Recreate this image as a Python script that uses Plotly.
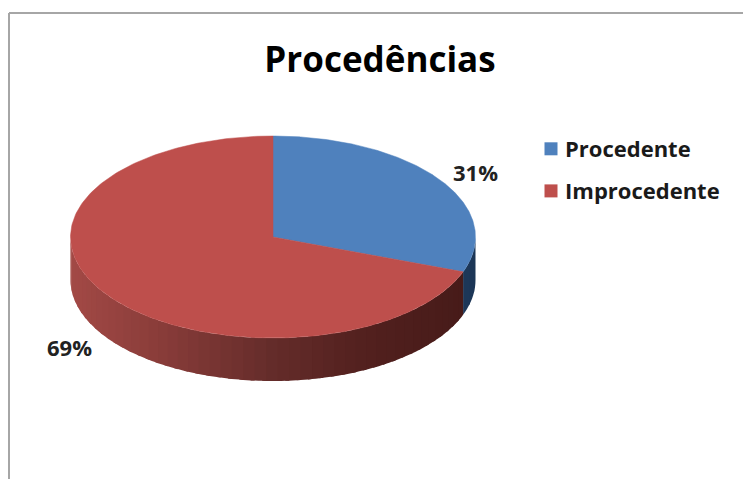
import numpy as np
import plotly.graph_objects as go

categories = ["Procedente", "Improcedente"]
values = [30.6, 69.4]
value_labels = ["31%", "69%"]
top_colors = ["#4F81BD", "#BE4F4C"]
title_text = "Procedências"

CX, CY, RX, RY, DEPTH = 273, 237, 202.5, 101, 43
FONT = "Open Sans"


def ell(theta, dy=0.0):
    return CX + RX * np.sin(theta), CY + dy - RY * np.cos(theta)


def mix(stops, x):
    xs = [s[0] for s in stops]
    return "rgb(%d,%d,%d)" % tuple(np.interp(x, xs, [s[1][i] for s in stops]) for i in range(3))


red_side = [(70, (163, 74, 70)), (150, (140, 62, 59)), (273, (100, 44, 42)), (370, (82, 32, 30)), (475, (70, 27, 25))]
blue_side = [(440, (34, 62, 98)), (475, (28, 54, 86))]

fracs = np.array(values, float) / sum(values)
edges = np.concatenate([[0], np.cumsum(fracs)]) * 2 * np.pi

fig = go.Figure()

# side wall: only the front half (90deg..270deg) is visible
for i, side in enumerate([blue_side, red_side]):
    a0 = max(edges[i], np.pi / 2)
    a1 = min(edges[i + 1], 3 * np.pi / 2)
    cuts = np.linspace(a0, a1, 4 if i == 0 else 50)
    for t0, t1 in zip(cuts[:-1], cuts[1:]):
        th = np.linspace(t0, min(t1 + 0.02, a1), 5)
        x0, y0 = ell(th)
        x1, y1 = ell(th[::-1], DEPTH)
        c = mix(side, float(np.mean(x0)))
        fig.add_trace(go.Scatter(x=np.r_[x0, x1], y=np.r_[y0, y1], mode="none", fill="toself",
                                 fillcolor=c, hoverinfo="skip", showlegend=False))

# top face
for i, name in enumerate(categories):
    th = np.linspace(edges[i], edges[i + 1], 240)
    ex, ey = ell(th)
    fig.add_trace(go.Scatter(x=np.r_[CX, ex, CX], y=np.r_[CY, ey, CY], mode="lines", fill="toself",
                             fillcolor=top_colors[i], line=dict(color=top_colors[i], width=0.5),
                             hoverinfo="skip", showlegend=False))

# legend entries
for i, name in enumerate(categories):
    fig.add_trace(go.Scatter(x=[None], y=[None], mode="markers", name=name, legendgroup=name,
                             marker=dict(symbol="square", size=13, color=top_colors[i])))

label_pos = [(475.5, 172), (69.5, 347)]
annotations = [dict(x=p[0], y=p[1], text=t, showarrow=False, xref="x", yref="y",
                    font=dict(family=FONT, size=22, color="#222222", weight="bold"))
               for p, t in zip(label_pos, value_labels)]

fig.update_layout(
    width=743, height=479, margin=dict(l=0, r=0, t=0, b=0),
    paper_bgcolor="white", plot_bgcolor="white",
    xaxis=dict(range=[0, 743], visible=False, fixedrange=True),
    yaxis=dict(range=[479, 0], visible=False, fixedrange=True),
    title=dict(text=title_text, x=380 / 743, y=1 - 60 / 479, xanchor="center", yanchor="middle",
               font=dict(family=FONT, size=35, color="#000000", weight="bold")),
    legend=dict(x=531 / 743, y=1 - 128 / 479, xanchor="left", yanchor="top", tracegroupgap=10.5,
                itemwidth=30, bgcolor="rgba(0,0,0,0)",
                font=dict(family=FONT, size=22, color="#1A1A1A", weight="bold")),
    annotations=annotations,
    shapes=[
        dict(type="line", xref="x", yref="y", x0=9, x1=9, y0=13, y1=479, line=dict(color="#A6A6A6", width=2)),
        dict(type="line", xref="x", yref="y", x0=9, x1=743, y0=13, y1=13, line=dict(color="#A6A6A6", width=2)),
    ],
)
post = """
document.body.style.margin = '0';
document.querySelectorAll('.legendtext').forEach(function (t) { t.setAttribute('x', 34); });
"""
fig.write_html("out.html", post_script=post, config={"displayModeBar": False})
